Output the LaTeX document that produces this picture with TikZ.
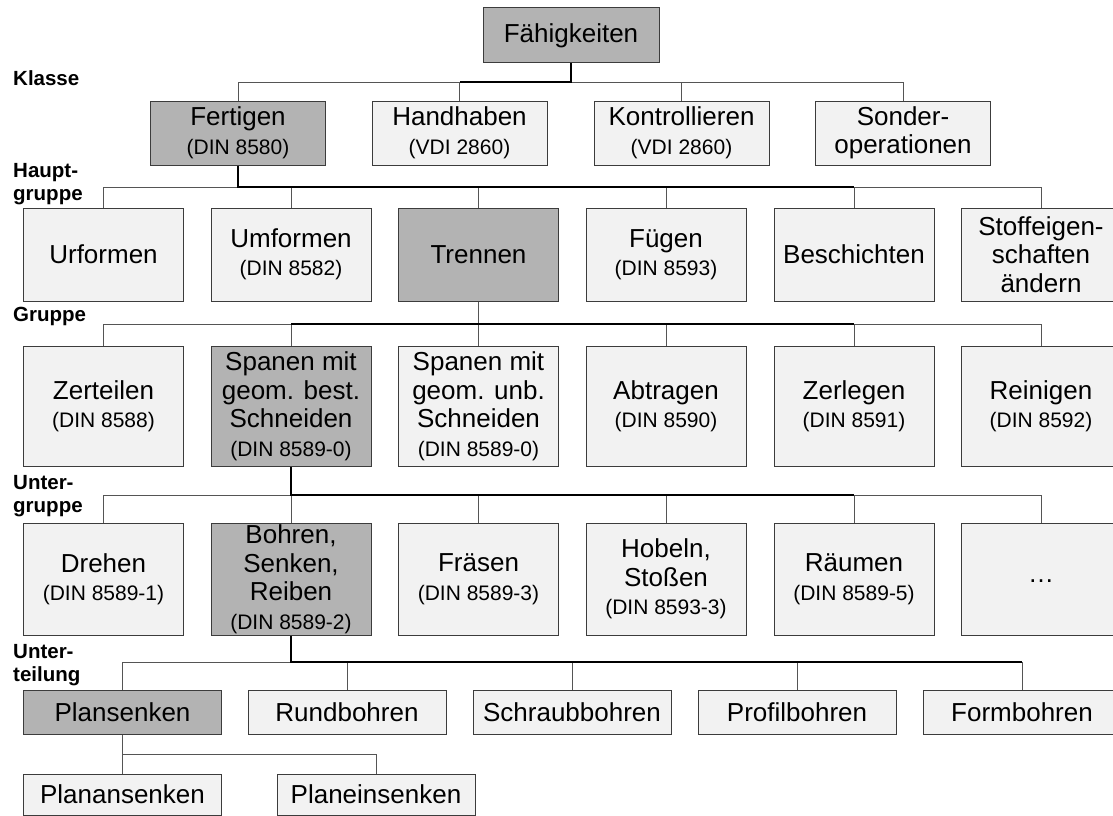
\documentclass[tikz,border=0pt]{standalone}
\usepackage{fontspec}
\setmainfont{Liberation Sans}

\definecolor{boxlight}{HTML}{F2F2F2}
\definecolor{boxdark}{HTML}{B3B3B3}
\definecolor{edge}{HTML}{3C3C3C}
\definecolor{wire}{HTML}{555555}

% smaller second line for standard numbers
\newcommand\din[1]{{\fontsize{21}{28}\selectfont #1}}

\tikzset{
  box/.style={draw=edge, line width=1pt, fill=boxlight, align=center,
              inner sep=0pt, text=black, font=\fontsize{26}{28.5}\selectfont},
  hl/.style={fill=boxdark},
  rowa/.style={minimum width=176pt, minimum height=55pt},
  rowb/.style={minimum width=175pt, minimum height=64pt},
  rowc/.style={minimum width=160pt, minimum height=93pt},
  rowd/.style={minimum width=160pt, minimum height=120pt},
  rowe/.style={minimum width=160pt, minimum height=112pt},
  rowf/.style={minimum width=198pt, minimum height=44pt},
  rowg/.style={minimum width=198pt, minimum height=41pt},
  wireline/.style={draw=wire, line width=0.9pt},
  pathline/.style={draw=black, line width=1.8pt},
  lvl/.style={anchor=north west, inner sep=0pt, align=left,
              font=\bfseries\fontsize{20.5}{22.5}\selectfont},
}

\begin{document}
\begin{tikzpicture}[x=1pt, y=-1pt]
\path[use as bounding box, fill=white] (0,0) rectangle (1113,816);

% level labels
\node[lvl] (lk) at (13,70.3) {Klasse};
\node[lvl] (lh) at (13,163.3) {Haupt-\\gruppe};
\node[lvl] (lg) at (13,307.3) {Gruppe};
\node[lvl] (lu) at (13,475.3) {Unter-\\gruppe};
\node[lvl] (lt) at (13,644.3) {Unter-\\teilung};

% root
\node[box, hl, rowa] (fa) at (571,35.5) {Fähigkeiten};

% Klasse
\node[box, hl, rowb] (fert) at (238,133)   {Fertigen\\\din{(DIN 8580)}};
\node[box, rowb]     (hand) at (459.5,133) {Handhaben\\\din{(VDI 2860)}};
\node[box, rowb]     (kont) at (681.5,133) {Kontrollieren\\\din{(VDI 2860)}};
\node[box, rowb]     (sond) at (903,133)   {Sonder-\\operationen};

% Hauptgruppe
\node[box, rowc]     (urf) at (103.5,254.5) {Urformen};
\node[box, rowc]     (umf) at (291,254.5)   {Umformen\\\din{(DIN 8582)}};
\node[box, hl, rowc] (tre) at (478.5,254.5) {Trennen};
\node[box, rowc]     (fue) at (666,254.5)   {Fügen\\\din{(DIN 8593)}};
\node[box, rowc]     (bes) at (854,254.5)   {Beschichten};
\node[box, rowc]     (sto) at (1041,254.5)  {Stoffeigen-\\schaften\\ändern};

% Gruppe
\node[box, rowd]     (zer)  at (103.5,406) {Zerteilen\\\din{(DIN 8588)}};
\node[box, hl, rowd] (spb)  at (291,406)   {Spanen mit\\geom. best.\\Schneiden\\\din{(DIN 8589-0)}};
\node[box, rowd]     (spu)  at (478.5,406) {Spanen mit\\geom. unb.\\Schneiden\\\din{(DIN 8589-0)}};
\node[box, rowd]     (abt)  at (666,406)   {Abtragen\\\din{(DIN 8590)}};
\node[box, rowd]     (zerl) at (854,406)   {Zerlegen\\\din{(DIN 8591)}};
\node[box, rowd]     (rei)  at (1041,406)  {Reinigen\\\din{(DIN 8592)}};

% Untergruppe
\node[box, rowe]     (dre)  at (103.5,579) {Drehen\\\din{(DIN 8589-1)}};
\node[box, hl, rowe] (boh)  at (291,579)   {Bohren,\\Senken,\\Reiben\\\din{(DIN 8589-2)}};
\node[box, rowe]     (fra)  at (478.5,579) {Fräsen\\\din{(DIN 8589-3)}};
\node[box, rowe]     (hob)  at (666,579)   {Hobeln,\\Stoßen\\\din{(DIN 8593-3)}};
\node[box, rowe]     (rae)  at (854,579)   {Räumen\\\din{(DIN 8589-5)}};
\node[box, rowe]     (more) at (1041,579)  {\raisebox{-7pt}{…}};

% Unterteilung
\node[box, hl, rowf] (pls)  at (122.5,712) {Plansenken};
\node[box, rowf]     (rund) at (347,712)   {Rundbohren};
\node[box, rowf]     (schr) at (572,712)   {Schraubbohren};
\node[box, rowf]     (prof) at (797,712)   {Profilbohren};
\node[box, rowf]     (form) at (1022,712)  {Formbohren};

% below Plansenken
\node[box, rowg] (plan)  at (122.5,794.5) {Planansenken};
\node[box, rowg] (plane) at (376,794.5)   {Planeinsenken};

% bus levels below each parent
\coordinate (bk) at (571,82);
\coordinate (bh) at (238,187);
\coordinate (bg) at (478.5,324);
\coordinate (bu) at (291,495);
\coordinate (bt) at (291,662);
\coordinate (bp) at (122.5,754);

% plain connectors
\draw[wireline] (fa.south) -- (bk);
\draw[wireline] (fert.north |- bk) -- (sond.north |- bk);
\foreach \n in {fert,hand,kont,sond} \draw[wireline] (\n.north) -- (\n.north |- bk);

\draw[wireline] (fert.south) -- (bh);
\draw[wireline] (urf.north |- bh) -- (sto.north |- bh);
\foreach \n in {urf,umf,tre,fue,bes,sto} \draw[wireline] (\n.north) -- (\n.north |- bh);

\draw[wireline] (tre.south) -- (bg);
\draw[wireline] (zer.north |- bg) -- (rei.north |- bg);
\foreach \n in {zer,spb,spu,abt,zerl,rei} \draw[wireline] (\n.north) -- (\n.north |- bg);

\draw[wireline] (spb.south) -- (bu);
\draw[wireline] (dre.north |- bu) -- (more.north |- bu);
\foreach \n in {dre,boh,fra,hob,rae,more} \draw[wireline] (\n.north) -- (\n.north |- bu);

\draw[wireline] (boh.south) -- (bt);
\draw[wireline] (pls.north |- bt) -- (form.north |- bt);
\foreach \n in {pls,rund,schr,prof,form} \draw[wireline] (\n.north) -- (\n.north |- bt);

\draw[wireline] (pls.south) -- (bp) -- (plane.north |- bp) -- (plane.north);
\draw[wireline] (plan.north) -- (bp);

% emphasised path
\draw[pathline] (fa.south) -- (bk) -- (hand.north |- bk);
\draw[pathline] (fert.south) -- (bh) -- (bes.north |- bh);
\draw[pathline] (spb.north |- bg) -- (zerl.north |- bg);
\draw[pathline] (spb.south) -- (bu) -- (rae.north |- bu);
\draw[pathline] (boh.south) -- (bt) -- (form.north |- bt);
\end{tikzpicture}
\end{document}
